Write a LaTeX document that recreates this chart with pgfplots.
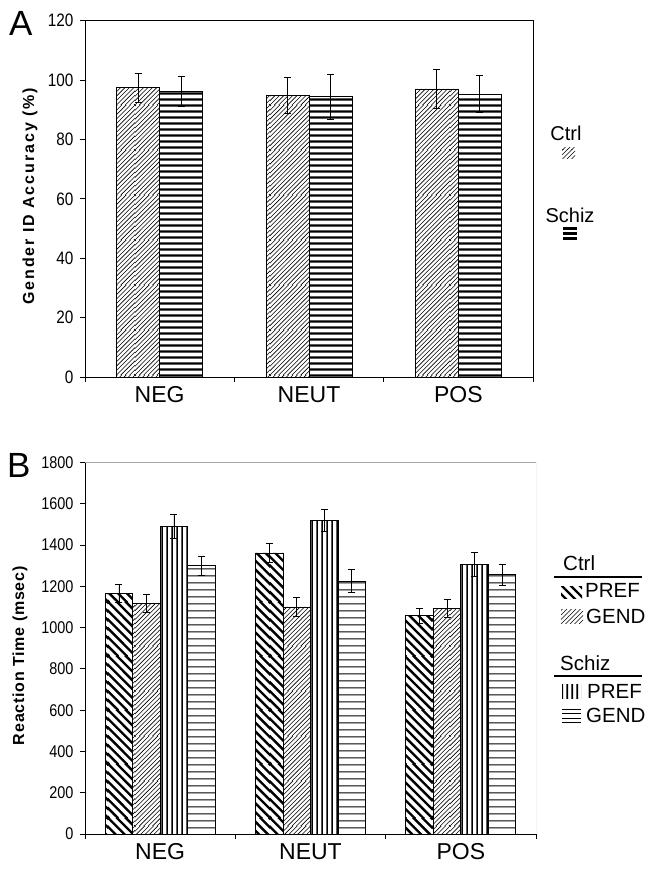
\documentclass[border=0pt]{standalone}
\usepackage{fontspec}
\setmainfont{Liberation Sans}
\newfontfamily\narrowfont[FakeStretch=0.85]{Liberation Sans}
\newfontfamily\labelfont[LetterSpace=12]{Liberation Sans Bold}
\newfontfamily\labelfontB[LetterSpace=5]{Liberation Sans Bold}
\usepackage{pgfplots}
\pgfplotsset{compat=1.18}
\usetikzlibrary{patterns}

% custom patterns with large tiles (avoid seams)
% fine "/" lines, horizontal period 4.5pt, tile 45pt
\pgfdeclarepatternformonly{fineNE}{\pgfpointorigin}{\pgfpoint{45pt}{45pt}}{\pgfpoint{45pt}{45pt}}{%
  \pgfsetlinewidth{0.6pt}%
  \foreach \k in {-10,...,10}{%
    \pgfpathmoveto{\pgfpoint{\k*4.5pt-2pt}{-2pt}}%
    \pgfpathlineto{\pgfpoint{\k*4.5pt+47pt}{47pt}}%
  }%
  \pgfusepath{stroke}}
% thick "\" lines, horizontal period 9pt, tile 54pt
\pgfdeclarepatternformonly{thickNW}{\pgfpointorigin}{\pgfpoint{54pt}{54pt}}{\pgfpoint{54pt}{54pt}}{%
  \pgfsetlinewidth{2.4pt}%
  \foreach \k in {0,...,12}{%
    \pgfpathmoveto{\pgfpoint{\k*9pt-56pt}{56pt}}%
    \pgfpathlineto{\pgfpoint{\k*9pt+2pt}{-2pt}}%
  }%
  \pgfusepath{stroke}}
% vertical lines, period 5pt
\pgfdeclarepatternformonly{vertL}{\pgfpointorigin}{\pgfpoint{5pt}{60pt}}{\pgfpoint{5pt}{60pt}}{%
  \pgfsetlinewidth{2pt}%
  \pgfpathmoveto{\pgfpoint{2.5pt}{-2pt}}\pgfpathlineto{\pgfpoint{2.5pt}{62pt}}%
  \pgfusepath{stroke}}
% horizontal thick, period 6pt
\pgfdeclarepatternformonly{horThick}{\pgfpointorigin}{\pgfpoint{60pt}{6pt}}{\pgfpoint{60pt}{6pt}}{%
  \pgfsetlinewidth{2.6pt}%
  \pgfpathmoveto{\pgfpoint{-2pt}{3pt}}\pgfpathlineto{\pgfpoint{62pt}{3pt}}%
  \pgfusepath{stroke}}
% horizontal thin, period 6.5pt
\pgfdeclarepatternformonly{horThin}{\pgfpointorigin}{\pgfpoint{60pt}{6.5pt}}{\pgfpoint{60pt}{6.5pt}}{%
  \pgfsetlinewidth{1.1pt}%
  \pgfpathmoveto{\pgfpoint{-2pt}{3.25pt}}\pgfpathlineto{\pgfpoint{62pt}{3.25pt}}%
  \pgfusepath{stroke}}

\pgfplotstableread{
x ctrl ctrlerr schiz schizerr
0 97.4 5.0 96.2 5.0
1 94.9 6.0 94.4 7.5
2 97.0 6.5 95.3 6.3
}\dataA

\pgfplotstableread{
x cp cpe cg cge sp spe sg sge
0 1165 45 1119 44 1490 60 1300 46
1 1362 48 1100 45 1520 53 1226 55
2 1058 37 1094 43 1306 57 1256 50
}\dataB

\tikzset{
  pfine/.style={pattern=fineNE},
  pthickdiag/.style={pattern=thickNW},
  pvert/.style={pattern=vertL},
  phorthick/.style={pattern=horThick},
  phorthin/.style={pattern=horThin},
}

\pgfplotsset{
  mybase/.style={
    scale only axis,
    ybar=0pt,
    xmin=-0.5, xmax=2.5,
    xtick={-0.5,0.5,1.5,2.5},
    xticklabels={},
    extra x ticks={0,1,2},
    extra x tick labels={NEG,NEUT,POS},
    extra x tick style={tick style={draw=none},
      xticklabel style={font=\fontsize{23}{23}\selectfont, yshift=-1pt}},
    xtick pos=bottom, ytick pos=left,
    tick align=outside,
    major tick length=5pt,
    tick style={black, line width=0.8pt},
    axis line style={line width=0.9pt},
    /pgf/number format/assume math mode=true,
    /pgf/number format/1000 sep={},
    yticklabel style={xshift=-3pt},
    minor tick num=0,
    error bars/error bar style={black, line width=0.8pt},
    error bars/error mark options={black, line width=0.8pt, mark size=3.5pt, rotate=90},
  },
  barstyle/.style={draw=black, line width=0.8pt, fill=white},
}

\begin{document}
\begin{tikzpicture}
\useasboundingbox (0,0) rectangle (650pt,-870pt);

% Panel A
\begin{axis}[mybase,
  at={(85pt,-20.7pt)}, anchor=north west,
  width=448pt, height=356.3pt,
  bar width=43pt,
  ymin=0, ymax=120, ytick={0,20,...,120},
  yticklabel style={font=\narrowfont\fontsize{18}{18}\selectfont},
  ylabel={Gender ID Accuracy (\%)},
  ylabel style={font=\labelfont\fontsize{16}{16}\selectfont, at={(axis description cs:-0.1228,0.507)}, anchor=center},
]
\addplot[barstyle, postaction={pfine},
  error bars/.cd, y dir=both, y explicit]
  table[x=x, y=ctrl, y error=ctrlerr] {\dataA};
\addplot[barstyle, postaction={phorthick},
  error bars/.cd, y dir=both, y explicit]
  table[x=x, y=schiz, y error=schizerr] {\dataA};
\end{axis}

% Panel B
\begin{axis}[mybase,
  at={(85pt,-462.5pt)}, anchor=north west,
  width=451pt, height=371.5pt,
  bar width=27.5pt,
  axis x line*=bottom, axis y line*=left,
  ymin=0, ymax=1800, ytick={0,200,...,1800},
  yticklabel style={font=\narrowfont\fontsize{17}{17}\selectfont},
  ylabel={Reaction Time (msec)},
  ylabel style={font=\labelfontB\fontsize{16}{16}\selectfont, at={(axis description cs:-0.144,0.48)}, anchor=center},
]
\draw[gray!70, line width=0.9pt] (rel axis cs:0,1) -- (rel axis cs:1,1) -- (rel axis cs:1,0);
\addplot[barstyle, postaction={pthickdiag},
  error bars/.cd, y dir=both, y explicit]
  table[x=x, y=cp, y error=cpe] {\dataB};
\addplot[barstyle, postaction={pfine},
  error bars/.cd, y dir=both, y explicit]
  table[x=x, y=cg, y error=cge] {\dataB};
\addplot[barstyle, postaction={pvert},
  error bars/.cd, y dir=both, y explicit]
  table[x=x, y=sp, y error=spe] {\dataB};
\addplot[barstyle, postaction={phorthin},
  error bars/.cd, y dir=both, y explicit]
  table[x=x, y=sg, y error=sge] {\dataB};
\end{axis}

% Panel letters
\node[anchor=base west, inner sep=0pt, font=\fontsize{35}{35}\selectfont] at (9pt,-35pt) {A};
\node[anchor=base west, inner sep=0pt, font=\fontsize{35}{35}\selectfont] at (7pt,-477pt) {B};

% Legend A
\node[anchor=base, inner sep=0pt, font=\fontsize{20}{20}\selectfont] at (566pt,-140pt) {Ctrl};
\path[pfine] (562pt,-147pt) rectangle (575pt,-158pt);
\node[anchor=base, inner sep=0pt, font=\fontsize{20}{20}\selectfont] at (570pt,-222pt) {Schiz};
\foreach \yy in {228.5,233.5,238.5} {\draw[line width=2.4pt] (563pt,-\yy pt) -- (577pt,-\yy pt);}

% Legend B
\begin{scope}[every node/.style={inner sep=0pt, font=\fontsize{20.5}{20.5}\selectfont}]
\node[anchor=base west] at (563pt,-570pt) {Ctrl};
\draw[line width=1.5pt] (554pt,-577pt) -- (642pt,-577pt);
\path[pthickdiag] (561pt,-586pt) rectangle (582pt,-598pt);
\node[anchor=base west] at (585pt,-597pt) {PREF};
\path[pfine] (561pt,-609pt) rectangle (583pt,-623pt);
\node[anchor=base west] at (586pt,-623pt) {GEND};
\node[anchor=base west] at (560pt,-670pt) {Schiz};
\draw[line width=1.5pt] (554pt,-676pt) -- (642pt,-676pt);
\path[pvert] (562pt,-684pt) rectangle (581pt,-698pt);
\node[anchor=base west] at (587pt,-698pt) {PREF};
\foreach \yy in {709,713.5,718,722} {\draw[line width=1pt] (562pt,-\yy pt) -- (581pt,-\yy pt);}
\node[anchor=base west] at (586pt,-722pt) {GEND};
\end{scope}
\end{tikzpicture}
\end{document}
